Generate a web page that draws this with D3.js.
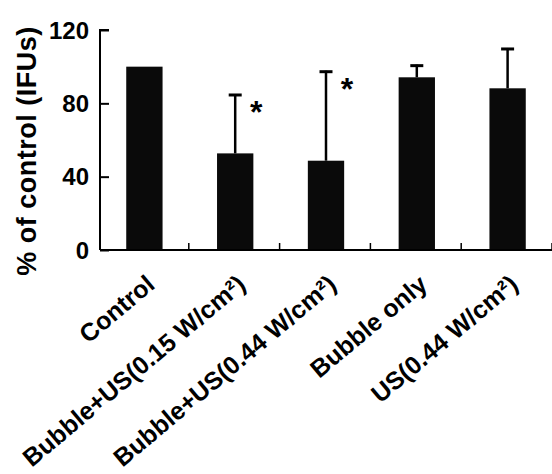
<!DOCTYPE html>
<html>
<head>
<meta charset="utf-8">
<script src="https://cdn.jsdelivr.net/npm/d3@7"></script>
<style>
  html, body { margin: 0; padding: 0; background: #fff; }
  svg { display: block; }
  text { font-family: "Liberation Sans", Arial, sans-serif; fill: #000; }
</style>
</head>
<body>
<svg id="chart" width="552" height="474"></svg>
<script>
const categories = ["Control", "Bubble+US(0.15 W/cm²)", "Bubble+US(0.44 W/cm²)", "Bubble only", "US(0.44 W/cm²)"];
const values = [100, 52.7, 48.7, 94.2, 88.2];
const errors = [0, 32.4, 49.1, 6.9, 22];
const significant = [false, true, true, false, false];
const yTicks = [0, 40, 80, 120];
const yTitle = "% of control (IFUs)";

const svg = d3.select("#chart");
const x = d3.scaleBand().domain(categories).range([99, 553]).padding(0);
const y = d3.scaleLinear().domain([0, 120]).range([250, 30]);
const barW = x.bandwidth() * 0.4;
const cx = c => x(c) + x.bandwidth() / 2;

// bars
svg.append("g").selectAll("rect").data(categories).join("rect")
  .attr("x", c => cx(c) - barW / 2)
  .attr("y", (c, i) => y(values[i]))
  .attr("width", barW)
  .attr("height", (c, i) => y(0) - y(values[i]))
  .attr("fill", "#0a0a0a");

// error bars
const eg = svg.append("g").attr("stroke", "#000");
categories.forEach((c, i) => {
  if (!errors[i]) return;
  eg.append("line").attr("x1", cx(c)).attr("x2", cx(c))
    .attr("y1", y(values[i])).attr("y2", y(values[i] + errors[i])).attr("stroke-width", 2.5);
  eg.append("line").attr("x1", cx(c) - 6.5).attr("x2", cx(c) + 6.5)
    .attr("y1", y(values[i] + errors[i]) + 1).attr("y2", y(values[i] + errors[i]) + 1).attr("stroke-width", 3);
});

// asterisks
svg.append("g").selectAll("text").data(categories.filter((c, i) => significant[i])).join("text")
  .attr("x", c => cx(c) + 21)
  .attr("y", c => { const i = categories.indexOf(c); return y(values[i] + errors[i]) + 29; })
  .attr("text-anchor", "middle")
  .attr("font-size", 32).attr("font-weight", "bold")
  .text("*");

// y axis
const yAxis = d3.axisRight(y).tickValues(yTicks).tickSize(9).tickFormat("");
const yg = svg.append("g").attr("transform", "translate(100,0)").call(yAxis);
yg.select(".domain").attr("stroke", "#000").attr("stroke-width", 2).attr("d", "M9,30H0V250");
yg.selectAll(".tick line").attr("stroke-width", 2);
svg.append("g").selectAll("text").data(yTicks).join("text")
  .attr("x", 89).attr("y", d => y(d))
  .attr("dy", "0.36em")
  .attr("text-anchor", "end")
  .attr("font-size", 24).attr("font-weight", "bold")
  .text(d => d);

// x axis with boundary ticks
const xg = svg.append("g");
xg.append("line").attr("x1", 100).attr("x2", 552).attr("y1", 250).attr("y2", 250)
  .attr("stroke", "#000").attr("stroke-width", 2);
xg.selectAll("line.t").data(categories).join("line").attr("class", "t")
  .attr("x1", c => x(c) + x.bandwidth() - 1).attr("x2", c => x(c) + x.bandwidth() - 1)
  .attr("y1", 250).attr("y2", 243).attr("stroke", "#000").attr("stroke-width", 1.5);

// x labels
svg.append("g").selectAll("text").data(categories).join("text")
  .attr("transform", c => `translate(${cx(c) + 12},${287}) rotate(-40)`)
  .attr("text-anchor", "end")
  .attr("font-size", 25).attr("font-weight", "bold")
  .text(c => c);

// y title
svg.append("text")
  .attr("transform", "translate(36,151) rotate(-90)")
  .attr("text-anchor", "middle")
  .attr("font-size", 27).attr("font-weight", "bold")
  .attr("letter-spacing", 0.5)
  .text(yTitle);
</script>
</body>
</html>
